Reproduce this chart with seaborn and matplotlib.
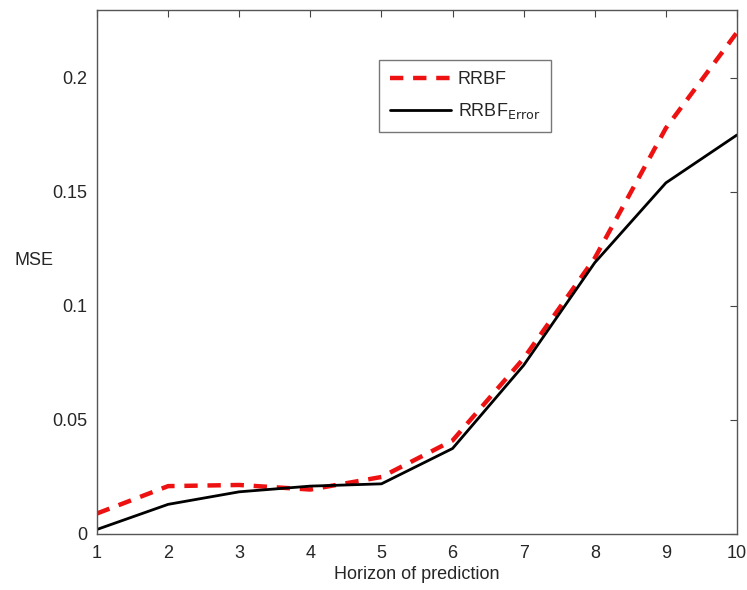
import matplotlib
matplotlib.use("Agg")
import matplotlib.pyplot as plt
import seaborn as sns
import pandas as pd

horizon = [1, 2, 3, 4, 5, 6, 7, 8, 9, 10]
rrbf = [0.009, 0.021, 0.0215, 0.0195, 0.025, 0.041, 0.077, 0.121, 0.178, 0.220]
rrbf_error = [0.002, 0.013, 0.0185, 0.021, 0.022, 0.0375, 0.074, 0.119, 0.154, 0.175]
x_ticks = [1, 2, 3, 4, 5, 6, 7, 8, 9, 10]
y_ticks = [0, 0.05, 0.1, 0.15, 0.2]
y_tick_labels = ["0", "0.05", "0.1", "0.15", "0.2"]

sns.set_style("white")
plt.rcParams['font.family'] = ['Liberation Sans', 'DejaVu Sans']

df = pd.DataFrame({"h": horizon, "RRBF": rrbf, "RRBF_Error": rrbf_error})

fig = plt.figure(figsize=(7.47, 5.90), dpi=100)
ax = fig.add_axes([97 / 747, 56 / 590, 640 / 747, 524 / 590])

sns.lineplot(data=df, x="h", y="RRBF", ax=ax, color="#ee1111", linewidth=3.2,
             linestyle=(0, (3, 2.2)), label="RRBF")
sns.lineplot(data=df, x="h", y="RRBF_Error", ax=ax, color="black", linewidth=2.0,
             label="RRBF$_{\\mathrm{Error}}$")

ax.set_xlim(1, 10)
ax.set_ylim(0, 0.2298)
ax.set_xticks(x_ticks)
ax.set_yticks(y_ticks)
ax.set_yticklabels(y_tick_labels)
ax.tick_params(direction="in", length=5, top=True, right=True, labelsize=13,
               color="#444444")
ax.tick_params(axis="x", pad=8)
ax.tick_params(axis="y", pad=7)
for s in ax.spines.values():
    s.set_color("#555555")
    s.set_linewidth(1.0)

ax.set_xlabel("Horizon of prediction", fontsize=13, labelpad=3)
ax.set_ylabel("MSE", fontsize=13, rotation=0)
ax.yaxis.set_label_coords(-0.098, 0.505)

leg = ax.legend(loc="upper left", bbox_to_anchor=(0.4406, 0.9046), frameon=True,
                fancybox=False, fontsize=13, handlelength=3.4, borderpad=0.6,
                labelspacing=0.75, handletextpad=0.35, borderaxespad=0)
leg.get_frame().set_edgecolor("#555555")
leg.get_frame().set_linewidth(1.0)

fig.savefig("out.png", dpi=100)
